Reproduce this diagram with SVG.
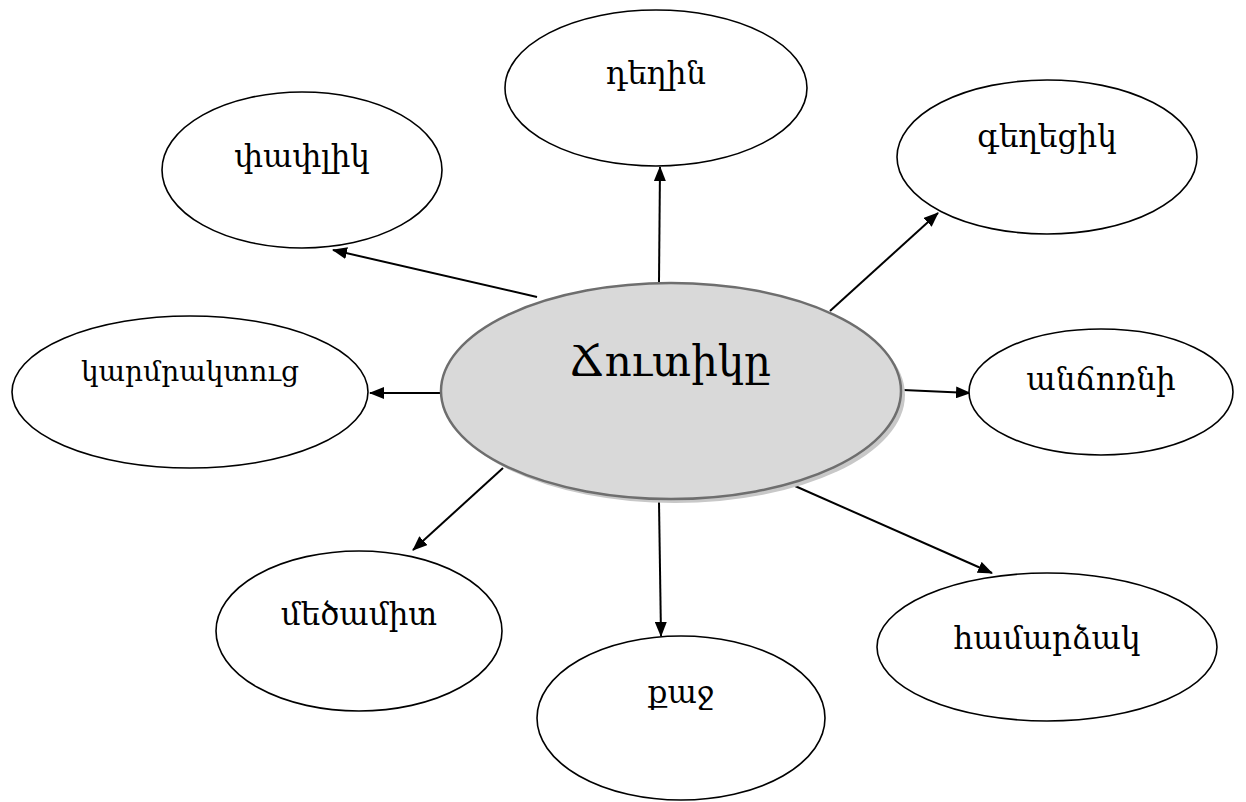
<svg xmlns="http://www.w3.org/2000/svg" width="1246" height="802" viewBox="0 0 1246 802">
<style>
.n{fill:#fff;stroke:#000;stroke-width:1.6}
.c{fill:#d9d9d9;stroke:#6e6e6e;stroke-width:2.5}
.sh{fill:#c8c8c8;stroke:none}
.t{font-family:"DejaVu Serif","Noto Serif","Noto Sans",serif;font-size:31px;fill:#000;text-anchor:middle}
.ts{font-size:28px}
.tc{font-size:42px}
.e{stroke:#000;stroke-width:2;fill:none;marker-end:url(#ah)}
</style>
<defs>
<marker id="ah" markerWidth="15" markerHeight="12" refX="14" refY="6" orient="auto" markerUnits="userSpaceOnUse">
<path d="M0,0 L15,6 L0,12 Z" fill="#000"/>
</marker>
</defs>
<rect width="1246" height="802" fill="#fff"/>
<g id="connectors">
<line class="e" x1="537" y1="297" x2="333" y2="250"/>
<line class="e" x1="659" y1="282" x2="660" y2="167"/>
<line class="e" x1="830" y1="311" x2="938" y2="213"/>
<line class="e" x1="903" y1="390" x2="970" y2="393"/>
<line class="e" x1="795" y1="486" x2="992" y2="573"/>
<line class="e" x1="659" y1="502" x2="661" y2="636"/>
<line class="e" x1="503" y1="468" x2="413" y2="550"/>
<line class="e" x1="441" y1="393" x2="370" y2="393"/>
</g>
<g id="center">
<ellipse class="sh" cx="675" cy="395" rx="230" ry="108"/>
<ellipse class="c" cx="671" cy="391" rx="230" ry="108"/>
<text class="t tc" x="670" y="376">Ճուտիկը</text>
</g>
<g id="n-degin">
<ellipse class="n" cx="656" cy="88" rx="151" ry="78"/>
<text class="t" x="656" y="84">դեղին</text>
</g>
<g id="n-papuk">
<ellipse class="n" cx="302" cy="170" rx="140" ry="78"/>
<text class="t" x="302" y="167">փափլիկ</text>
</g>
<g id="n-geghecik">
<ellipse class="n" cx="1047" cy="157" rx="150" ry="77"/>
<text class="t" x="1047" y="147">գեղեցիկ</text>
</g>
<g id="n-karmrak">
<ellipse class="n" cx="190" cy="392" rx="178" ry="76"/>
<text class="t ts" x="190" y="381">կարմրակտուց</text>
</g>
<g id="n-anchorni">
<ellipse class="n" cx="1101" cy="392" rx="132" ry="63"/>
<text class="t" x="1101" y="390">անճոռնի</text>
</g>
<g id="n-medzamit">
<ellipse class="n" cx="359" cy="631" rx="143" ry="80"/>
<text class="t" x="359" y="625">մեծամիտ</text>
</g>
<g id="n-qaj">
<ellipse class="n" cx="681" cy="718" rx="144" ry="82"/>
<text class="t" x="681" y="703">քաջ</text>
</g>
<g id="n-hamardzak">
<ellipse class="n" cx="1047" cy="647" rx="170" ry="74"/>
<text class="t" x="1047" y="649">համարձակ</text>
</g>
</svg>
